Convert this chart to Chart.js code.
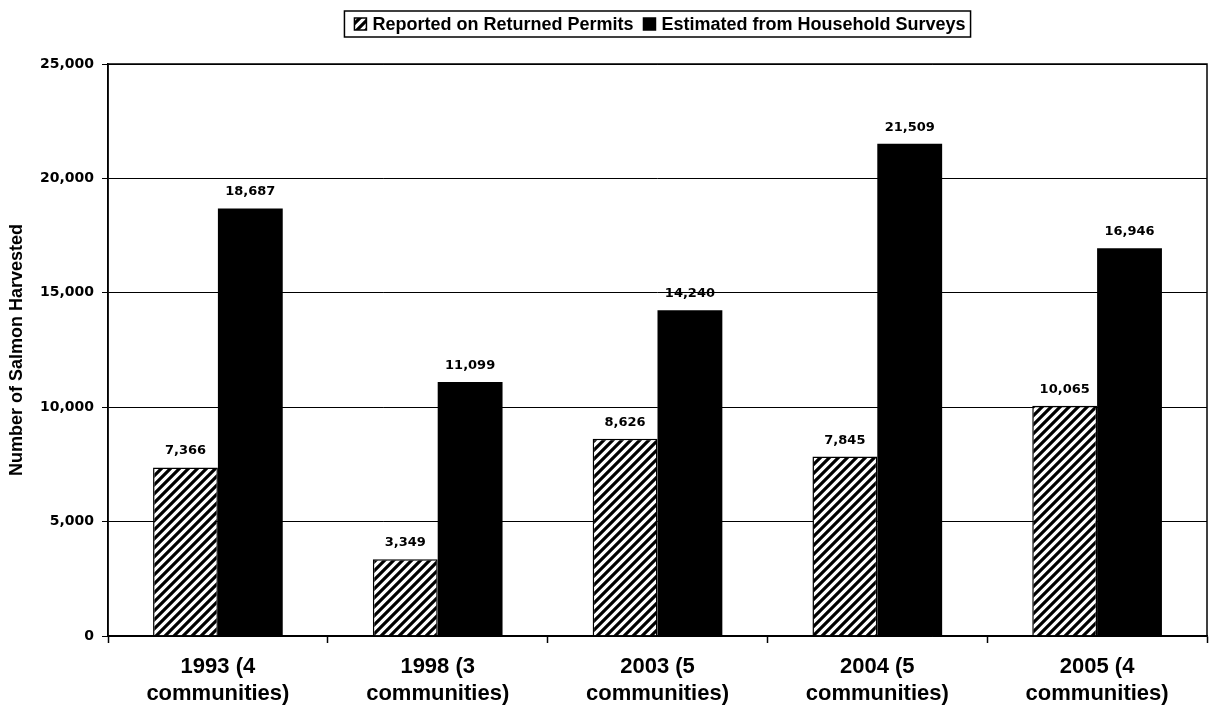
<!DOCTYPE html>
<html>
<head>
<meta charset="utf-8">
<script src="https://cdn.jsdelivr.net/npm/chart.js@4.4.1/dist/chart.umd.min.js"></script>
<style>
  html, body { margin: 0; padding: 0; background: #fff; }
  #wrap { width: 1209px; height: 714px; }
</style>
</head>
<body>
<div id="wrap"><canvas id="chartHarvest" width="1209" height="714"></canvas></div>
<script>
const years = [
    ['1993 (4', 'communities)'],
    ['1998 (3', 'communities)'],
    ['2003 (5', 'communities)'],
    ['2004 (5', 'communities)'],
    ['2005 (4', 'communities)']
];
const reportedPermits = [7366, 3349, 8626, 7845, 10065];
const surveyEstimates = [18687, 11099, 14240, 21509, 16946];
const yTicks = [0, 5000, 10000, 15000, 20000, 25000];
const seriesNames = ['Reported on Returned Permits', 'Estimated from Household Surveys'];

const SANS = 'Liberation Sans, Arial, sans-serif';
const WIDE = 'DejaVu Sans, sans-serif';

// diagonal hatch fill for the permit bars
function makeHatch() {
    const size = 9;
    const c = document.createElement('canvas');
    c.width = size;
    c.height = size;
    const g = c.getContext('2d');
    g.fillStyle = '#fff';
    g.fillRect(0, 0, size, size);
    g.strokeStyle = '#000';
    g.lineWidth = 3.2;
    g.beginPath();
    g.moveTo(-2, size + 2); g.lineTo(size + 2, -2);
    g.moveTo(-2, 2); g.lineTo(2, -2);
    g.moveTo(size - 2, size + 2); g.lineTo(size + 2, size - 2);
    g.stroke();
    return g.createPattern(c, 'repeat');
}
const hatch = makeHatch();

const fmt = v => v.toLocaleString('en-US');

// value labels above each bar
const barLabels = {
    id: 'barLabels',
    afterDatasetsDraw(chart) {
        const ctx = chart.ctx;
        ctx.save();
        ctx.font = 'bold 13px ' + WIDE;
        ctx.fillStyle = '#000';
        ctx.textAlign = 'center';
        ctx.textBaseline = 'alphabetic';
        chart.data.datasets.forEach((ds, i) => {
            chart.getDatasetMeta(i).data.forEach((bar, j) => {
                ctx.fillText(fmt(ds.data[j]), bar.x, bar.y - 13);
            });
        });
        ctx.restore();
    }
};

// plot frame plus a boxed legend centred over the plot area
const frameAndLegend = {
    id: 'frameAndLegend',
    afterDraw(chart) {
        const ctx = chart.ctx;
        const a = chart.chartArea;
        ctx.save();
        ctx.strokeStyle = '#000';
        ctx.lineWidth = 1.5;
        ctx.strokeRect(a.left, a.top, a.right - a.left, a.bottom - a.top);

        ctx.font = 'bold 18px ' + SANS;
        const box = 12, gap = 6, sep = 10, padL = 10, padR = 5;
        const widths = seriesNames.map(t => ctx.measureText(t).width);
        const total = padL + padR + widths.reduce((s, w) => s + box + gap + w, 0) + sep;
        const x0 = (a.left + a.right) / 2 - total / 2;
        const yMid = 24;
        ctx.strokeRect(x0, 11, total, 26);

        let x = x0 + padL;
        chart.data.datasets.forEach((ds, i) => {
            ctx.fillStyle = ds.backgroundColor;
            ctx.fillRect(x, yMid - box / 2, box, box);
            ctx.lineWidth = 1.5;
            ctx.strokeRect(x, yMid - box / 2, box, box);
            ctx.fillStyle = '#000';
            ctx.textAlign = 'left';
            ctx.textBaseline = 'middle';
            ctx.fillText(seriesNames[i], x + box + gap, yMid + 1);
            x += box + gap + widths[i] + sep;
        });
        ctx.restore();
    }
};

const chartElement = document.getElementById('chartHarvest');

const configBarChart = {
    type: 'bar',
    data: {
        labels: years,
        datasets: [
            {
                label: seriesNames[0],
                data: reportedPermits,
                backgroundColor: hatch,
                borderColor: '#000',
                borderWidth: 1.5
            },
            {
                label: seriesNames[1],
                data: surveyEstimates,
                backgroundColor: '#000',
                borderColor: '#000',
                borderWidth: 0
            }
        ]
    },
    options: {
        responsive: false,
        animation: false,
        devicePixelRatio: 1,
        categoryPercentage: 0.59,
        barPercentage: 1,
        layout: { padding: { top: 64, right: 2, bottom: 0, left: 0 } },
        plugins: {
            tooltip: { enabled: false },
            legend: { display: false }
        },
        scales: {
            x: {
                offset: true,
                afterFit(scale) { scale.height = 78; },
                grid: {
                    display: true,
                    offset: true,
                    drawOnChartArea: false,
                    color: '#000',
                    tickLength: 7,
                    tickWidth: 1.5
                },
                border: { color: '#000', width: 1.5 },
                ticks: {
                    color: '#000',
                    font: { family: SANS, size: 22, weight: 'bold', lineHeight: 1.2 },
                    maxRotation: 0,
                    padding: 11
                }
            },
            y: {
                min: 0,
                max: 25000,
                afterFit(scale) { scale.width = 108; },
                afterBuildTicks(scale) {
                    scale.ticks = yTicks.map(v => ({ value: v }));
                },
                grid: {
                    color: '#000',
                    lineWidth: 1,
                    tickLength: 6
                },
                border: { color: '#000', width: 1.5 },
                title: {
                    display: true,
                    text: 'Number of Salmon Harvested',
                    color: '#000',
                    font: { family: SANS, size: 18, weight: 'bold' },
                    padding: { top: 6, bottom: 6 }
                },
                ticks: {
                    color: '#000',
                    font: { family: WIDE, size: 14, weight: 'bold' },
                    padding: 8,
                    callback: v => fmt(v)
                }
            }
        }
    },
    plugins: [barLabels, frameAndLegend]
};

var chartBar = new Chart(chartElement, configBarChart);
</script>
</body>
</html>
